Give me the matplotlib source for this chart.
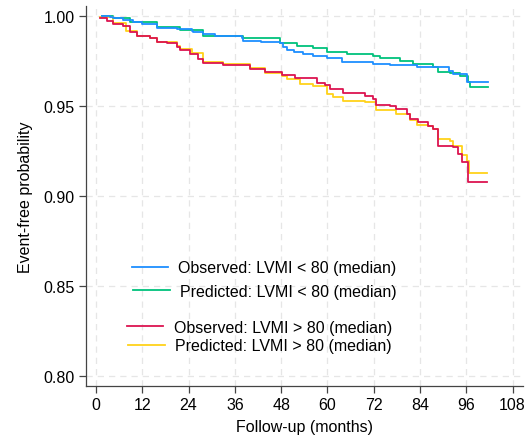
import matplotlib
matplotlib.use("Agg")
import matplotlib.pyplot as plt

plt.rcParams['font.family'] = ['Liberation Sans', 'DejaVu Sans']

# Observed: LVMI < 80
obs_lo_t = [1.5, 3.6, 4.5, 7.1, 9.7, 11.8, 15.7, 20.9, 24.8, 25.2, 27.8, 30.8, 37.8, 38.2, 42.9, 47.7,
            48.5, 49.4, 51.2, 53.7, 56.3, 59.8, 63.7, 71.9, 76.2, 83.1, 89.2, 91.6, 92.6, 96.1, 96.3, 101.7]
obs_lo_s = [1.0, 0.9996, 0.9989, 0.998, 0.9965, 0.9954, 0.9935, 0.993, 0.9915, 0.991, 0.990, 0.989,
            0.9878, 0.9863, 0.9854, 0.985, 0.9826, 0.9813, 0.980, 0.979, 0.978, 0.9765, 0.9743,
            0.9733, 0.9728, 0.9719, 0.9715, 0.9696, 0.9678, 0.9674, 0.9635, 0.9635]

# Predicted: LVMI < 80
pre_lo_t = [1.5, 4.5, 8.8, 15.7, 21.8, 27.8, 38.2, 47.7, 52.0, 56.3, 59.8, 65.0, 71.9, 73.6, 78.8,
            82.3, 87.4, 88.7, 91.8, 94.4, 96.5, 96.9, 101.7]
pre_lo_s = [1.0, 0.9988, 0.9965, 0.9937, 0.9922, 0.989, 0.9876, 0.985, 0.9835, 0.982, 0.980, 0.979,
            0.9776, 0.9765, 0.9752, 0.9733, 0.9715, 0.969, 0.9683, 0.9665, 0.9635, 0.9604, 0.9604]

# Observed: LVMI > 80
obs_hi_t = [1.0, 2.8, 4.5, 7.1, 8.8, 10.5, 14.0, 15.7, 18.3, 20.9, 21.8, 24.4, 26.5, 27.8, 33.0,
            39.9, 43.8, 48.1, 51.6, 57.2, 59.4, 60.7, 64.1, 69.7, 71.9, 72.7, 76.2, 77.9, 80.5,
            81.4, 83.5, 86.1, 87.4, 88.7, 92.6, 93.9, 94.8, 96.5, 101.4]
obs_hi_s = [0.9987, 0.9975, 0.9956, 0.9946, 0.991, 0.989, 0.988, 0.9857, 0.985, 0.983, 0.981, 0.979,
            0.976, 0.9737, 0.9728, 0.9706, 0.969, 0.967, 0.9656, 0.963, 0.9617, 0.9594, 0.957,
            0.9557, 0.9539, 0.9506, 0.950, 0.9483, 0.9456, 0.9428, 0.9413, 0.939, 0.937, 0.928,
            0.927, 0.9233, 0.919, 0.908, 0.908]

# Predicted: LVMI > 80
pre_hi_t = [1.0, 4.5, 7.9, 10.5, 14.0, 15.7, 20.9, 21.8, 24.8, 27.8, 33.0, 39.9, 43.8, 48.1, 49.4,
            52.9, 56.3, 59.8, 61.5, 64.1, 69.7, 72.7, 77.9, 81.4, 83.1, 86.1, 87.4, 88.7, 91.8,
            92.6, 94.8, 96.1, 96.8, 101.4]
pre_hi_s = [0.9993, 0.9963, 0.9919, 0.989, 0.9876, 0.9857, 0.9835, 0.9817, 0.9794, 0.9746, 0.9733,
            0.9709, 0.9683, 0.9669, 0.965, 0.9622, 0.9613, 0.9567, 0.955, 0.953, 0.952, 0.9478,
            0.9456, 0.942, 0.9394, 0.939, 0.937, 0.9317, 0.9308, 0.928, 0.9228, 0.9196, 0.9126, 0.9126]

labels = ["Observed: LVMI < 80 (median)", "Predicted: LVMI < 80 (median)",
          "Observed: LVMI > 80 (median)", "Predicted: LVMI > 80 (median)"]

x_ticks = [0, 12, 24, 36, 48, 60, 72, 84, 96, 108]
y_ticks = [0.80, 0.85, 0.90, 0.95, 1.00]
y_tick_labels = ["0.80", "0.85", "0.90", "0.95", "1.00"]

c_blue = "#1E8FFF"
c_green = "#00C27C"
c_red = "#DC1450"
c_yellow = "#FFD21A"

W, H = 531, 439
fig = plt.figure(figsize=(W/100, H/100), dpi=100)
ax = fig.add_axes([86/W, 1 - 386.7/H, (523-86)/W, (386.7-7)/H])

lw = 1.3
l1, = ax.plot(obs_lo_t, obs_lo_s, drawstyle='steps-post', color=c_blue, lw=lw, zorder=4)
l2, = ax.plot(pre_lo_t, pre_lo_s, drawstyle='steps-post', color=c_green, lw=lw, zorder=3)
l3, = ax.plot(obs_hi_t, obs_hi_s, drawstyle='steps-post', color=c_red, lw=lw, zorder=4)
l4, = ax.plot(pre_hi_t, pre_hi_s, drawstyle='steps-post', color=c_yellow, lw=lw, zorder=3)

ax.set_xlim(-2.6, 110.7)
ax.set_ylim(0.7946, 1.0056)
ax.set_xticks(x_ticks)
ax.set_yticks(y_ticks)
ax.set_yticklabels(y_tick_labels)
ax.grid(True, linestyle=(0, (5, 4)), color="#E6E6E6", lw=0.9, zorder=0)
ax.set_axisbelow(True)
for s in ['top', 'right']:
    ax.spines[s].set_visible(False)
for s in ['left', 'bottom']:
    ax.spines[s].set_color("#444444")
    ax.spines[s].set_linewidth(0.9)
ax.tick_params(direction='out', length=5, width=0.9, color="#444444", labelsize=11.5, pad=3)
ax.set_xlabel("Follow-up (months)", fontsize=11.5, labelpad=5)
ax.set_ylabel("Event-free probability", fontsize=11.5, labelpad=8)

# legend entries: (handle x-start px, handle x-end px, text x px, center y px)
pos = [(132, 168, 178, 269), (133, 170, 180, 292), (127, 163, 174, 328), (128, 165, 175, 347)]
fs = 11.5
em = fs * 100 / 72
for (h0, h1, tx, cy), line, lab in zip(pos, [l1, l2, l3, l4], labels):
    leg = fig.legend([line], [lab], loc='center left',
                     bbox_to_anchor=(h0 / W, 1 - cy / H), frameon=False, fontsize=fs,
                     handlelength=(h1 - h0) / em, handletextpad=(tx - h1) / em,
                     borderpad=0, borderaxespad=0)

fig.savefig("out.png", dpi=100)
